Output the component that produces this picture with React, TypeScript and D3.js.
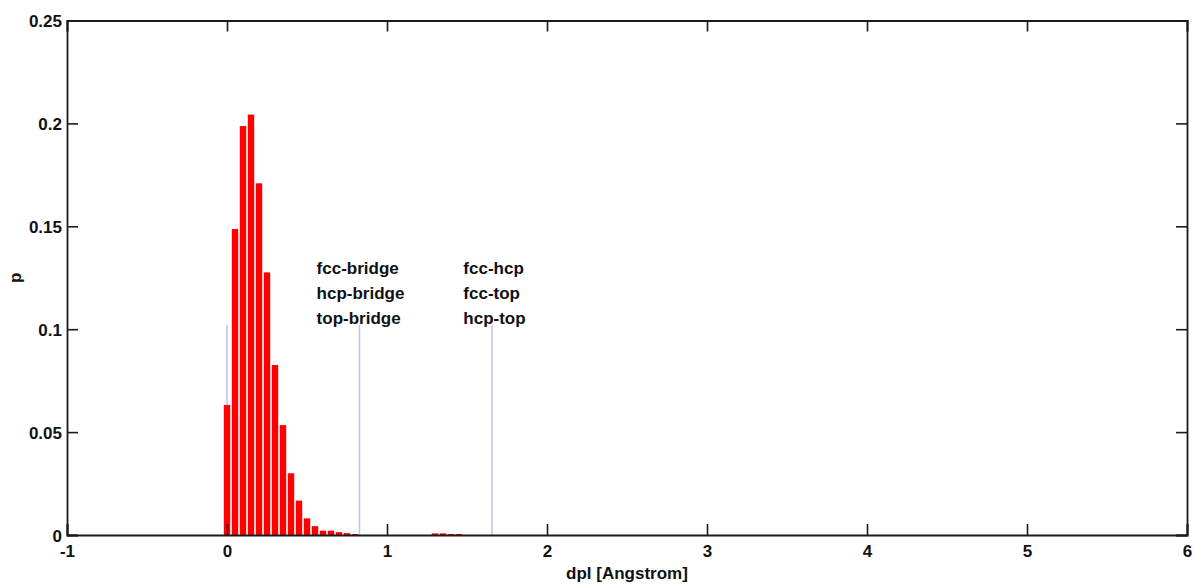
import React, { useRef, useEffect } from "react";
import { select, scaleLinear, axisBottom, axisLeft, axisTop, axisRight } from "d3";

// histogram bins (centre in Angstrom) and probability
const binX = [0, 0.05, 0.1, 0.15, 0.2, 0.25, 0.3, 0.35, 0.4, 0.45, 0.5, 0.55, 0.6, 0.65, 0.7, 0.75, 0.8, 1.3, 1.35, 1.4, 1.45];
const binP = [0.0632, 0.1487, 0.1987, 0.2043, 0.1709, 0.1276, 0.0826, 0.0534, 0.03, 0.0167, 0.0081, 0.0043, 0.0021, 0.0021, 0.0014, 0.0009, 0.0005, 0.0008, 0.0008, 0.0005, 0.0005];

// reference site distances
const siteX = [0, 0.828, 1.656];
const siteP = [0.102, 0.102, 0.102];

// site label groups
const groupA = ["fcc-bridge", "hcp-bridge", "top-bridge"];
const groupB = ["fcc-hcp", "fcc-top", "hcp-top"];

const xTicks = [-1, 0, 1, 2, 3, 4, 5, 6];
const yTicks = [0, 0.05, 0.1, 0.15, 0.2, 0.25];
const yTickLabels = ["0", "0.05", "0.1", "0.15", "0.2", "0.25"];

const W = 1194;
const H = 584;
const margin = { top: 20.5, right: 7, bottom: 49, left: 67 };
const FONT = "'Liberation Sans', Arial, Helvetica, sans-serif";

function Histogram() {
  const svgRef = useRef<SVGSVGElement | null>(null);

  useEffect(() => {
    const svg = select(svgRef.current);
    svg.selectAll("*").remove();

    const x = scaleLinear().domain([-1, 6]).range([margin.left, W - margin.right]);
    const y = scaleLinear().domain([0, 0.25]).range([H - margin.bottom, margin.top]);

    const binW = (x(0.05) - x(0)) * 0.8;

    // site lines
    svg
      .selectAll(".site")
      .data(siteX)
      .join("line")
      .attr("class", "site")
      .attr("x1", (d) => x(d))
      .attr("x2", (d) => x(d))
      .attr("y1", y(0))
      .attr("y2", (d, i) => y(siteP[i]))
      .attr("stroke", "#c2c2f7")
      .attr("stroke-width", 1.6);

    // bars
    svg
      .selectAll(".bar")
      .data(binX)
      .join("rect")
      .attr("class", "bar")
      .attr("x", (d) => x(d) - binW / 2)
      .attr("width", binW)
      .attr("y", (d, i) => y(binP[i]))
      .attr("height", (d, i) => y(0) - y(binP[i]))
      .attr("fill", "#ff0000");

    // axes: bottom/left with labels, top/right ticks only
    const tickLen = 11;
    const bottom = svg
      .append("g")
      .attr("transform", `translate(0,${y(0)})`)
      .call(axisBottom(x).tickValues(xTicks).tickSize(-tickLen).tickPadding(8).tickFormat((d) => String(d)));
    const left = svg
      .append("g")
      .attr("transform", `translate(${x(-1)},0)`)
      .call(axisLeft(y).tickValues(yTicks).tickSize(-tickLen).tickPadding(5).tickFormat((d, i) => yTickLabels[i]));
    const top = svg
      .append("g")
      .attr("transform", `translate(0,${y(0.25)})`)
      .call(axisTop(x).tickValues(xTicks).tickSize(-tickLen).tickFormat(() => ""));
    const right = svg
      .append("g")
      .attr("transform", `translate(${x(6)},0)`)
      .call(axisRight(y).tickValues(yTicks).tickSize(-tickLen).tickFormat(() => ""));

    [bottom, left, top, right].forEach((g) => {
      g.select(".domain").attr("stroke", "#1a1a1a").attr("stroke-width", 1.8);
      g.selectAll(".tick line").attr("stroke", "#1a1a1a").attr("stroke-width", 1.6);
      g.selectAll(".tick text")
        .attr("fill", "#111")
        .style("font-family", FONT)
        .style("font-size", "17px")
        .style("font-weight", "bold");
    });
    bottom.selectAll(".tick text").attr("dy", "0.85em");
    left.selectAll(".tick text").attr("dy", "0.36em");

    // annotations
    const labelStyle = (sel: any) =>
      sel
        .attr("fill", "#111")
        .style("font-family", FONT)
        .style("font-size", "17px")
        .style("font-weight", "bold");

    const groups = [
      { names: groupA, x0: 0.56 },
      { names: groupB, x0: 1.477 },
    ];
    groups.forEach((grp) => {
      svg
        .append("g")
        .selectAll("text")
        .data(grp.names)
        .join("text")
        .attr("x", x(grp.x0))
        .attr("y", (d, i) => 274 + i * 25)
        .text((d) => d)
        .call(labelStyle);
    });

    // axis titles
    svg
      .append("text")
      .attr("x", (x(-1) + x(6)) / 2)
      .attr("y", 579)
      .attr("text-anchor", "middle")
      .text("dpl [Angstrom]")
      .call(labelStyle);
    svg
      .append("text")
      .attr("transform", `translate(21,${(y(0) + y(0.25)) / 2}) rotate(-90)`)
      .attr("text-anchor", "middle")
      .text("p")
      .call(labelStyle);
  }, []);

  return (
    <svg
      ref={svgRef}
      width={W}
      height={H}
      style={{ position: "absolute", left: 0, top: 0, background: "#fff" }}
    ></svg>
  );
}

export default function App() {
  return <Histogram />;
}
